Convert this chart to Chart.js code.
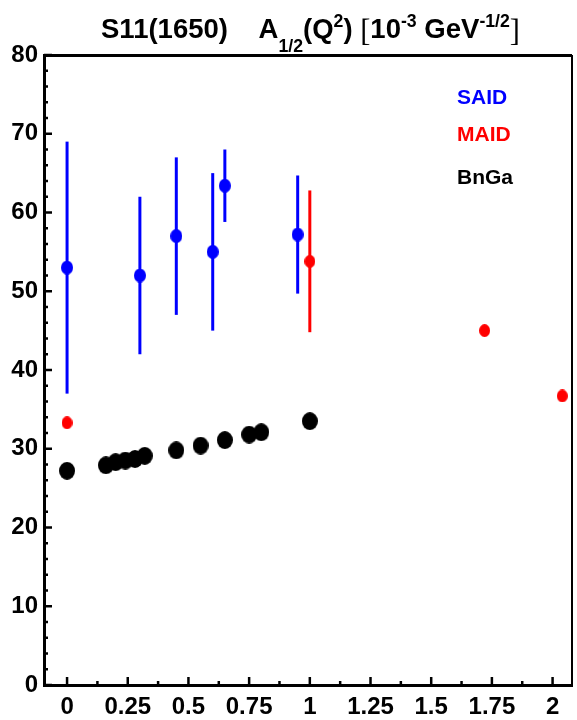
<!DOCTYPE html>
<html lang="en">
<head>
<meta charset="UTF-8">
<title>S11(1650) A1/2(Q2)</title>
<script src="https://cdn.jsdelivr.net/npm/chart.js"></script>
<style>
  html, body { margin: 0; padding: 0; background: #fff; }
</style>
</head>
<body>
<canvas id="chart" width="577" height="720"></canvas>
<script>
// SAID points with errors
const saidQ2 = [0, 0.30, 0.45, 0.60, 0.65, 0.95];
const saidA = [53.0, 52.0, 57.0, 55.0, 63.4, 57.2];
const saidErr = [16.0, 10.0, 10.0, 10.0, 4.6, 7.5];

// MAID
const maidQ2 = [0, 1.0, 1.72, 2.04];
const maidA = [33.3, 53.8, 45.0, 36.7];
const maidErr = [0, 9.0, 0, 0];

// BnGa
const bngaQ2 = [0, 0.16, 0.20, 0.24, 0.28, 0.32, 0.45, 0.55, 0.65, 0.75, 0.80, 1.0];
const bngaA = [27.2, 27.9, 28.3, 28.5, 28.7, 29.1, 29.8, 30.4, 31.1, 31.8, 32.1, 33.5];

const xTicks = [0, 0.25, 0.5, 0.75, 1, 1.25, 1.5, 1.75, 2];
const yTicks = [0, 10, 20, 30, 40, 50, 60, 70, 80];

const FONT = "'Liberation Sans', Arial, Helvetica, sans-serif";

function pts(xs, ys) {
  return xs.map((x, i) => ({ x: x, y: ys[i] }));
}

// ellipse marker (markers in the picture are a bit taller than wide)
function ellipse(w, h, color) {
  const c = document.createElement('canvas');
  c.width = w; c.height = h;
  const g = c.getContext('2d');
  g.fillStyle = color;
  g.beginPath();
  g.ellipse(w / 2, h / 2, w / 2, h / 2, 0, 0, Math.PI * 2);
  g.fill();
  return c;
}

const errorBars = {
  id: 'errorBars',
  beforeDatasetsDraw(chart) {
    const ctx = chart.ctx, xs = chart.scales.x, ys = chart.scales.y;
    chart.data.datasets.forEach(ds => {
      if (!ds.err) return;
      ctx.save();
      ctx.strokeStyle = ds.barColor;
      ctx.lineWidth = 3;
      ds.data.forEach((p, i) => {
        const e = ds.err[i];
        if (!e) return;
        const px = xs.getPixelForValue(p.x);
        ctx.beginPath();
        ctx.moveTo(px, ys.getPixelForValue(p.y - e));
        ctx.lineTo(px, ys.getPixelForValue(p.y + e));
        ctx.stroke();
      });
      ctx.restore();
    });
  }
};

// frame, inner ticks, title and text legend
const decor = {
  id: 'decor',
  afterDraw(chart) {
    const ctx = chart.ctx, a = chart.chartArea;
    const xs = chart.scales.x, ys = chart.scales.y;
    ctx.save();
    ctx.strokeStyle = '#000';
    // top and right frame
    ctx.lineWidth = 3;
    ctx.beginPath();
    ctx.moveTo(a.left, a.top + 0.5);
    ctx.lineTo(a.right, a.top + 0.5);
    ctx.stroke();
    ctx.lineWidth = 2;
    ctx.beginPath();
    ctx.moveTo(a.right, a.top);
    ctx.lineTo(a.right, a.bottom);
    ctx.stroke();

    // x ticks pointing up
    ctx.lineWidth = 2.5;
    for (let v = 0; v <= xs.max; v += 0.125) {
      const px = xs.getPixelForValue(v);
      const major = Math.abs(v / 0.25 - Math.round(v / 0.25)) < 1e-6;
      ctx.beginPath();
      ctx.moveTo(px, a.bottom);
      ctx.lineTo(px, a.bottom - (major ? 8 : 4));
      ctx.stroke();
    }
    // y ticks pointing right
    for (let v = 0; v <= ys.max; v += 2) {
      const py = ys.getPixelForValue(v);
      ctx.beginPath();
      ctx.moveTo(a.left, py);
      ctx.lineTo(a.left + (v % 10 === 0 ? 8 : 4), py);
      ctx.stroke();
    }

    // title with sub/superscripts
    const big = 28, small = 18;
    const serif = "'Liberation Serif', 'Times New Roman', serif";
    const segs = [
      { t: 'S11(1650)', s: big, dy: 0 },
      { t: '    ', s: big, dy: 0 },
      { t: 'A', s: big, dy: 0 },
      { t: '1/2', s: small, dy: 14 },
      { t: '(Q', s: big, dy: 0 },
      { t: '2', s: small, dy: -11 },
      { t: ') ', s: big, dy: 0 },
      { t: '[', s: 31, dy: 3, f: serif, w: 'normal' },
      { t: '10', s: big, dy: 0 },
      { t: '-3', s: small, dy: -11 },
      { t: ' GeV', s: big, dy: 0 },
      { t: '-1/2', s: small, dy: -11 },
      { t: ']', s: 31, dy: 3, f: serif, w: 'normal' }
    ];
    const fontOf = sg => (sg.w || 'bold') + ' ' + sg.s + 'px ' + (sg.f || FONT);
    let total = 0;
    segs.forEach(sg => { ctx.font = fontOf(sg); sg.width = ctx.measureText(sg.t).width; total += sg.width; });
    const left = 101, right = 520;
    const sx = (right - left) / total;
    const base = 38;
    ctx.translate(left, 0);
    ctx.scale(sx, 1);
    ctx.fillStyle = '#000';
    ctx.textBaseline = 'alphabetic';
    ctx.textAlign = 'left';
    let x = 0;
    segs.forEach(sg => {
      ctx.font = fontOf(sg);
      ctx.fillText(sg.t, x, base + sg.dy);
      x += sg.width;
    });
    ctx.setTransform(1, 0, 0, 1, 0, 0);

    // legend: coloured labels only
    const lx = 457;
    const ly = [104, 141, 184];
    chart.data.datasets.slice().reverse().forEach((ds, i) => {
      ctx.font = 'bold 21px ' + FONT;
      ctx.fillStyle = ds.barColor;
      ctx.fillText(ds.label, lx, ly[i]);
    });
    ctx.restore();
  }
};

const tickFont = { family: FONT, size: 24, weight: 'bold' };

new Chart(document.getElementById('chart'), {
  type: 'scatter',
  data: {
    datasets: [
      { label: 'BnGa', data: pts(bngaQ2, bngaA), pointStyle: ellipse(16, 18, '#000'), barColor: '#000', err: null },
      { label: 'MAID', data: pts(maidQ2, maidA), pointStyle: ellipse(11, 13, '#ff0000'), barColor: '#ff0000', err: maidErr },
      { label: 'SAID', data: pts(saidQ2, saidA), pointStyle: ellipse(12, 14, '#0000ff'), barColor: '#0000ff', err: saidErr }
    ]
  },
  options: {
    responsive: false,
    animation: false,
    layout: { padding: { top: 55, right: 3, left: 0, bottom: 0 } },
    plugins: { legend: { display: false }, title: { display: false }, tooltip: { enabled: false } },
    scales: {
      x: {
        type: 'linear', min: -0.095, max: 2.08,
        afterFit: s => { s.height = 35; },
        afterBuildTicks: s => { s.ticks = xTicks.map(v => ({ value: v })); },
        grid: { display: false, drawTicks: false },
        border: { display: true, color: '#000', width: 3 },
        ticks: { font: tickFont, color: '#000', padding: 8, maxRotation: 0, autoSkip: false, callback: v => String(v) }
      },
      y: {
        min: 0, max: 80,
        afterFit: s => { s.width = 44; },
        afterBuildTicks: s => { s.ticks = yTicks.map(v => ({ value: v })); },
        grid: { display: false, drawTicks: false },
        border: { display: true, color: '#000', width: 3 },
        ticks: { font: tickFont, color: '#000', padding: 6, autoSkip: false }
      }
    }
  },
  plugins: [errorBars, decor]
});
</script>
</body>
</html>
